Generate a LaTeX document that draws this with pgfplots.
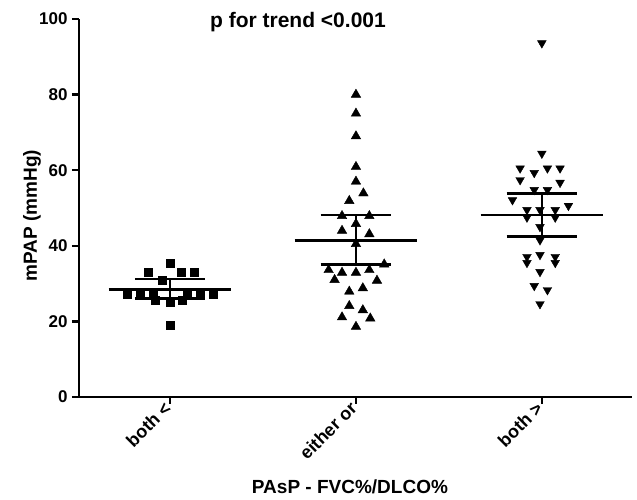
\documentclass[border=0pt]{standalone}
\usepackage{fontspec}
\setmainfont{Liberation Sans}
\usepackage{pgfplots}
\usepackage{pgfplotstable}
\pgfplotsset{compat=1.18}

\pgfplotstableread{
x y
0 35.4
-0.12 33
0.06 33
0.13 33
-0.045 31
-0.23 27.2
-0.16 27.2
-0.09 27.2
0.09 27.2
0.16 27.2
0.23 27.2
-0.08 25.7
0 25.0
0.065 25.7
0 19
}\gone

\pgfplotstableread{
x y
1 80
1 75
1 69
1 60.9
1 57
1.04 53.9
0.964 51.9
0.925 47.9
1.072 47.9
1 45.8
0.925 44
1.072 43.1
1 40.5
1.152 35.1
0.853 33.6
0.925 32.9
1 32.9
1.072 33.6
0.885 31
1.113 30.8
0.964 27.9
1.037 28.8
0.964 24.1
1.037 23
0.925 21.1
1.077 20.8
1 18.6
}\gtwo

\pgfplotstableread{
x y
2 93.6
2 64.4
1.883 60.5
1.959 59.3
2.03 60.5
2.098 60.5
1.883 57.4
2.098 56.7
1.959 54.8
2.03 54.8
1.842 52.1
1.92 49.5
1.99 49.5
2.072 49.5
2.143 50.6
1.92 47.5
2.072 47.5
1.99 45
1.99 41.5
1.92 37.1
1.99 37.6
2.072 37.1
1.92 35.5
2.072 35.5
1.99 33.1
1.959 29.4
2.03 28.3
1.99 24.6
}\gthree

\begin{document}
\begin{tikzpicture}
\begin{axis}[
  scale only axis, width=553pt, height=378pt,
  xmin=-0.49, xmax=2.485, ymin=0, ymax=100,
  axis lines=left,
  axis line style={line width=2.5pt,-},
  xtick={0,1,2},
  xticklabels={both <, either or, both >},
  ytick={0,20,40,60,80,100},
  tick align=outside,
  major tick length=7pt,
  tick style={line width=2.5pt, black},
  /pgf/number format/assume math mode=true,
  yticklabel style={font=\bfseries\fontsize{17}{17}\selectfont, xshift=-1pt},
  xticklabel style={font=\bfseries\fontsize{18}{18}\selectfont, rotate=45, anchor=north east, xshift=1pt, yshift=11pt},
  ylabel={mPAP (mmHg)},
  ylabel style={at={(axis description cs:-0.085,0.48)}, anchor=center, font=\bfseries\fontsize{19}{19}\selectfont},
  xlabel={PAsP - FVC\%/DLCO\%},
  xlabel style={at={(axis description cs:0.49,-0.238)}, anchor=center, font=\bfseries\fontsize{19}{19}\selectfont},
  title={p for trend <0.001},
  title style={at={(axis description cs:0.396,0.975)}, anchor=center, yshift=0pt, font=\bfseries\fontsize{21}{21}\selectfont},
  clip=false,
]
\addplot[only marks, mark=square*, mark size=4pt, black] table[x=x,y=y] {\gone};
\addplot[only marks, mark=triangle*, mark size=5.5pt, black] table[x=x,y=y] {\gtwo};
\addplot[only marks, mark=triangle*, mark size=5pt, black, mark options={rotate=180}] table[x=x,y=y] {\gthree};
% group 1 summary lines
\addplot[black, line width=2.5pt, no marks] coordinates {(-0.33,28.5) (0.33,28.5)};
\addplot[black, line width=2.5pt, no marks] coordinates {(-0.19,31.2) (0.19,31.2)};
\addplot[black, line width=2.5pt, no marks] coordinates {(-0.19,26) (0.19,26)};
\addplot[black, line width=2.5pt, no marks] coordinates {(0,26) (0,31.2)};
% group 2
\addplot[black, line width=2.5pt, no marks] coordinates {(0.67,41.4) (1.33,41.4)};
\addplot[black, line width=2.5pt, no marks] coordinates {(0.81,48.1) (1.19,48.1)};
\addplot[black, line width=2.5pt, no marks] coordinates {(0.81,35.1) (1.19,35.1)};
\addplot[black, line width=2.5pt, no marks] coordinates {(1,35.1) (1,48.1)};
% group 3
\addplot[black, line width=2.5pt, no marks] coordinates {(1.67,48.1) (2.33,48.1)};
\addplot[black, line width=2.5pt, no marks] coordinates {(1.81,53.9) (2.19,53.9)};
\addplot[black, line width=2.5pt, no marks] coordinates {(1.81,42.4) (2.19,42.4)};
\addplot[black, line width=2.5pt, no marks] coordinates {(2,42.4) (2,53.9)};
\end{axis}
\path ([shift={(-79pt,-103pt)}]current axis.south west) rectangle ++(637pt,500pt);
\end{tikzpicture}
\end{document}
